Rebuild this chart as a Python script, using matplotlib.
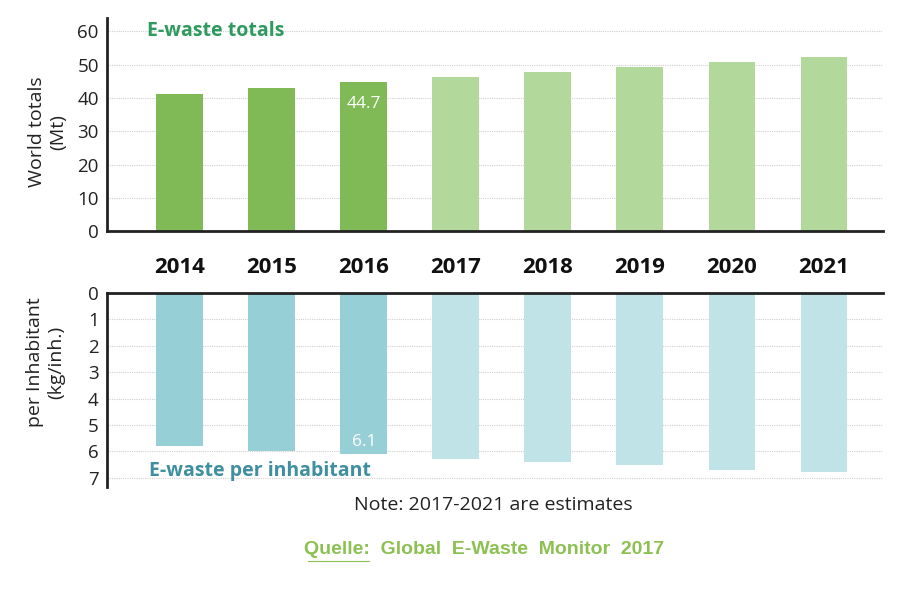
import matplotlib.pyplot as plt

plt.rcParams['font.family'] = ['Open Sans', 'DejaVu Sans']

years = ["2014", "2015", "2016", "2017", "2018", "2019", "2020", "2021"]
totals = [41.3, 43.0, 44.7, 46.4, 47.8, 49.3, 50.8, 52.2]
per_inh = [5.8, 6.0, 6.1, 6.3, 6.4, 6.5, 6.7, 6.8]
estimate = [False, False, False, True, True, True, True, True]

green = "#7fba56"
green_light = "#b3d89c"
teal = "#96cfd6"
teal_light = "#bfe3e6"

fig = plt.figure(figsize=(9, 5.91), dpi=100)
ax1 = fig.add_axes([0.119, 0.609, 0.862, 0.3605])
ax2 = fig.add_axes([0.119, 0.176, 0.862, 0.3282])

x = list(range(len(years)))
c1 = [green_light if e else green for e in estimate]
c2 = [teal_light if e else teal for e in estimate]

ax1.bar(x, totals, width=0.51, color=c1, zorder=2)
ax2.bar(x, per_inh, width=0.51, color=c2, zorder=2)

for ax in (ax1, ax2):
    ax.set_xlim(-0.79, 7.64)
    ax.grid(axis="y", color="#d0d0d0", linestyle=(0, (1, 1)), linewidth=0.8, zorder=0)
    ax.spines["right"].set_visible(False)
    ax.tick_params(axis="y", length=0, labelsize=13.5, pad=6, labelcolor="#222222")
    ax.spines["left"].set_linewidth(2)
    ax.spines["left"].set_color("#222222")

# top panel: world totals
ax1.set_ylim(0, 64)
ax1.set_yticks([0, 10, 20, 30, 40, 50, 60])
ax1.spines["top"].set_visible(False)
ax1.spines["bottom"].set_linewidth(2)
ax1.spines["bottom"].set_color("#222222")
ax1.set_xticks(x)
ax1.set_xticklabels(years, fontsize=16, fontweight="bold", color="#111111")
ax1.tick_params(axis="x", length=0, pad=19)
ax1.set_ylabel("World totals\n(Mt)", fontsize=14, color="#222222")
ax1.yaxis.set_label_coords(-0.052, 0.465)
ax1.text(0.052, 0.985, "E-waste totals", transform=ax1.transAxes, fontsize=14,
         fontweight="bold", color="#2e9a5e", va="top", ha="left")
ax1.text(2, totals[2] - 4.0, "44.7", color="white", ha="center", va="top", fontsize=12.5)

# bottom panel: per inhabitant (inverted)
ax2.set_ylim(7.35, 0)
ax2.set_yticks(range(8))
ax2.spines["bottom"].set_visible(False)
ax2.spines["top"].set_linewidth(2)
ax2.spines["top"].set_color("#222222")
ax2.set_xticks([])
ax2.set_ylabel("per Inhabitant\n(kg/inh.)", fontsize=14, color="#222222")
ax2.yaxis.set_label_coords(-0.054, 0.644)
ax2.text(-0.34, 6.75, "E-waste per inhabitant", fontsize=14, fontweight="bold",
         color="#3f8fa0", va="center", ha="left")
ax2.text(2, per_inh[2] - 0.15, "6.1", color="white", ha="center", va="bottom", fontsize=12.5)

fig.text(0.548, 0.146, "Note: 2017-2021 are estimates", ha="center", va="center",
         fontsize=14, color="#222222")
fig.text(0.538, 0.071, "Quelle:  Global  E-Waste  Monitor  2017", ha="center", va="center",
         fontsize=14, fontweight="bold", color="#8cc152",
         family=["Liberation Sans Narrow", "Liberation Sans", "DejaVu Sans"])
fig.add_artist(plt.Line2D([0.342, 0.41], [0.051, 0.051], color="#8cc152", linewidth=0.8))

fig.savefig("out.png", dpi=100)
